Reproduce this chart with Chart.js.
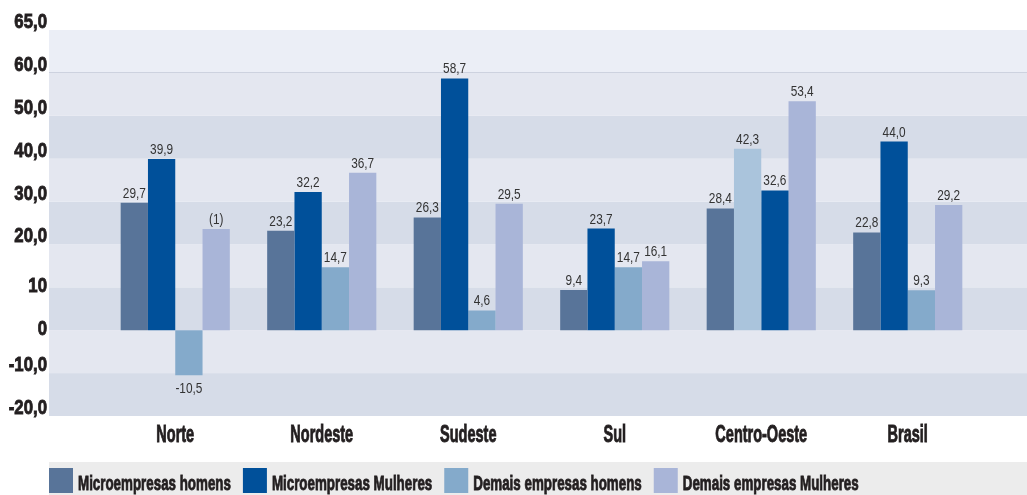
<!DOCTYPE html>
<html>
<head>
<meta charset="utf-8">
<script src="https://cdn.jsdelivr.net/npm/chart.js@4/dist/chart.umd.min.js"></script>
<style>
  body { margin: 0; background: #fff; }
</style>
</head>
<body>
<canvas id="myChart" width="1027" height="495"></canvas>
<script>
var regioes = ['Norte', 'Nordeste', 'Sudeste', 'Sul', 'Centro-Oeste', 'Brasil'];

var microHomens = [29.7, 23.2, 26.3, 9.4, 28.4, 22.8];
var microMulheres = [39.9, 32.2, 58.7, 23.7, 42.3, 44.0];
var demaisHomens = [-10.5, 14.7, 4.6, 14.7, 32.6, 9.3];
var demaisMulheres = [23.6, 36.7, 29.5, 16.1, 53.4, 29.2];

var series = ['Microempresas homens', 'Microempresas Mulheres', 'Demais empresas homens', 'Demais empresas Mulheres'];
var cores = ['#587499', '#00509a', '#84aacb', '#a9b5d8'];

// valores do eixo y e o texto mostrado em cada um
var yTicks = [-20, -10, 0, 10, 20, 30, 40, 50, 60, 70];
var yTickLabels = ['-20,0', '-10,0', '0', '10', '20,0', '30,0', '40,0', '50,0', '60,0', '65,0'];

// nota no lugar do valor (Norte, demais empresas mulheres)
var notas = { '3-0': '(1)' };

var fonte = '"Liberation Sans", Arial, sans-serif';
var corTexto = '#231f20';

// texto "condensado": a fonte original e bem estreita
function texto(ctx, t, x, y, font, sx, align, grosso) {
  ctx.save();
  ctx.font = font;
  ctx.textAlign = align;
  ctx.textBaseline = 'alphabetic';
  ctx.translate(x, y);
  ctx.scale(sx, 1);
  ctx.fillText(t, 0, 0);
  if (grosso) {
    ctx.strokeStyle = ctx.fillStyle;
    ctx.lineWidth = grosso;
    ctx.strokeText(t, 0, 0);
  }
  ctx.restore();
}

// no original, Centro-Oeste tem as cores das barras 2 e 3 trocadas
function corBarra(ds) {
  return function (c) {
    if (c.dataIndex === 4 && ds === 1) return '#aac4dc';
    if (c.dataIndex === 4 && ds === 2) return '#00509a';
    return cores[ds];
  };
}

var faixas = {
  id: 'faixas',
  beforeDraw: function (chart) {
    var ctx = chart.ctx, y = chart.scales.y;
    ctx.save();
    for (var i = 0; i < yTicks.length - 1; i++) {
      var top = y.getPixelForValue(yTicks[i + 1]);
      var bot = y.getPixelForValue(yTicks[i]);
      var cor = (i % 2 === 0) ? '#d6dce8' : '#e4e7f0';
      if (i === yTicks.length - 2) cor = '#ebeef6';
      ctx.fillStyle = cor;
      ctx.fillRect(49, top, chart.width - 49, bot - top);
    }
    ctx.fillStyle = '#cdd2df';
    ctx.fillRect(49, Math.round(y.getPixelForValue(60)) - 1, chart.width - 49, 1);
    ctx.restore();
  }
};

var eixos = {
  id: 'eixos',
  afterDraw: function (chart) {
    var ctx = chart.ctx, x = chart.scales.x, y = chart.scales.y;
    ctx.save();
    ctx.fillStyle = corTexto;
    yTicks.forEach(function (v, i) {
      var t = yTickLabels[i];
      var dy = t.indexOf(',') >= 0 ? -2 : 5;
      texto(ctx, t, 47, y.getPixelForValue(v) + dy, 'bold 21px ' + fonte, 0.8, 'right', 0.9);
    });
    regioes.forEach(function (r, i) {
      texto(ctx, r, x.getPixelForValue(i), chart.chartArea.bottom + 26, 'bold 23px ' + fonte, 0.63, 'center', 0.9);
    });

    // legenda
    var topo = chart.chartArea.bottom + 46;
    ctx.fillStyle = '#ececec';
    ctx.fillRect(49, topo, chart.width - 49, chart.height - topo);
    var px = 49;
    series.forEach(function (s, i) {
      ctx.fillStyle = cores[i];
      ctx.fillRect(px, topo + 6, 24, 25);
      ctx.fillStyle = corTexto;
      texto(ctx, s, px + 29, topo + 28, 'bold 21px ' + fonte, 0.636, 'left', 0.9);
      ctx.font = 'bold 21px ' + fonte;
      px += 29 + ctx.measureText(s).width * 0.636 + 12;
    });
    ctx.restore();
  }
};

var rotulos = {
  id: 'rotulos',
  afterDatasetsDraw: function (chart) {
    var ctx = chart.ctx;
    ctx.save();
    ctx.fillStyle = '#333333';
    chart.data.datasets.forEach(function (ds, di) {
      chart.getDatasetMeta(di).data.forEach(function (bar, i) {
        var v = ds.data[i];
        var t = notas[di + '-' + i] || v.toFixed(1).replace('.', ',');
        var ty = v >= 0 ? bar.y - 5 : bar.y + 18;
        texto(ctx, t, bar.x, ty, '15px ' + fonte, 0.79, 'center');
      });
    });
    ctx.restore();
  }
};

var valores = [microHomens, microMulheres, demaisHomens, demaisMulheres];

var ctx1 = document.getElementById('myChart');
var grafico = new Chart(ctx1, {
  type: 'bar',
  data: {
    labels: regioes,
    datasets: series.map(function (nome, i) {
      return {
        label: nome,
        data: valores[i],
        backgroundColor: corBarra(i),
        borderWidth: 0
      };
    })
  },
  options: {
    responsive: false,
    animation: false,
    layout: { padding: { top: 30, right: 46, bottom: 33, left: 0 } },
    categoryPercentage: 0.745,
    barPercentage: 1,
    plugins: {
      legend: { display: false },
      tooltip: { enabled: false }
    },
    scales: {
      x: {
        afterFit: function (s) { s.height = 46; },
        grid: { display: false, drawTicks: false },
        border: { display: false },
        ticks: { display: false }
      },
      y: {
        min: -20,
        max: 70,
        afterFit: function (s) { s.width = 102; },
        afterBuildTicks: function (s) {
          s.ticks = yTicks.map(function (v) { return { value: v }; });
        },
        grid: { display: false, drawTicks: false },
        border: { display: false },
        ticks: { display: false }
      }
    }
  },
  plugins: [faixas, rotulos, eixos]
});
</script>
</body>
</html>
